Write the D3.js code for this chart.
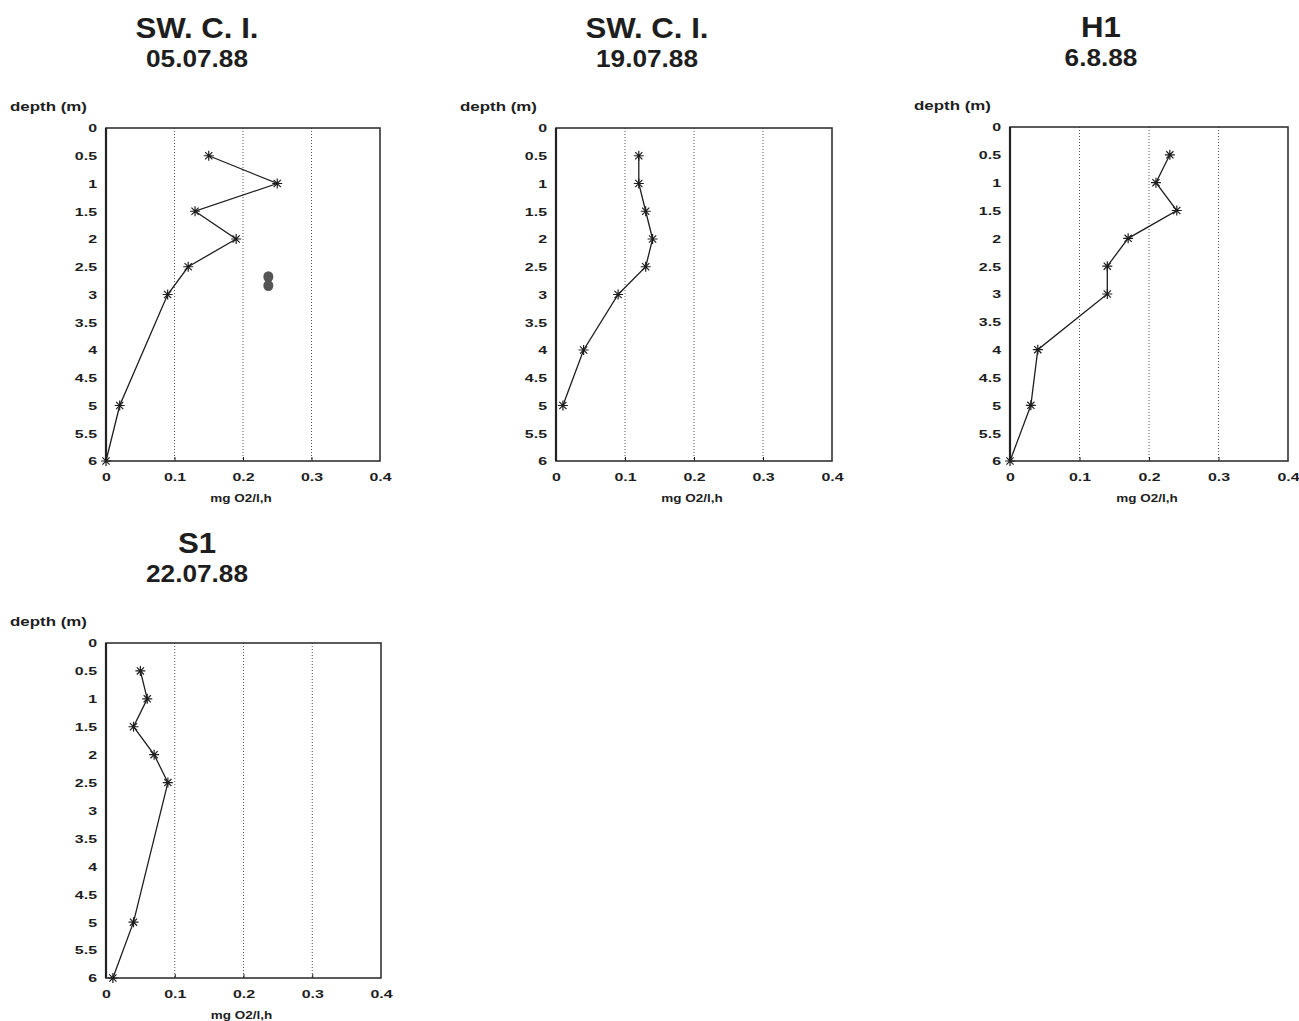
<!DOCTYPE html>
<html><head><meta charset="utf-8">
<script src="https://cdn.jsdelivr.net/npm/d3@7"></script>
<style>body{margin:0;background:#fff}svg{display:block}</style>
</head><body><svg id="c" width="1299" height="1021"></svg>
<script>
// ---- data ----
const stationNames = ["SW. C. I.", "SW. C. I.", "H1", "S1"];
const sampleDates = ["05.07.88", "19.07.88", "6.8.88", "22.07.88"];
const depthTicks = [0, 0.5, 1, 1.5, 2, 2.5, 3, 3.5, 4, 4.5, 5, 5.5, 6];
const rateTicks = [0, 0.1, 0.2, 0.3, 0.4];
const depthLabel = "depth (m)";
const rateLabel = "mg O2/l,h";

const depths1 = [0.5, 1, 1.5, 2, 2.5, 3, 5, 6];
const rates1  = [0.15, 0.25, 0.13, 0.19, 0.12, 0.09, 0.02, 0];
const depths2 = [0.5, 1, 1.5, 2, 2.5, 3, 4, 5];
const rates2  = [0.12, 0.12, 0.13, 0.14, 0.13, 0.09, 0.04, 0.01];
const depths3 = [0.5, 1, 1.5, 2, 2.5, 3, 4, 5, 6];
const rates3  = [0.23, 0.21, 0.24, 0.17, 0.14, 0.14, 0.04, 0.03, 0];
const depths4 = [0.5, 1, 1.5, 2, 2.5, 5, 6];
const rates4  = [0.05, 0.06, 0.04, 0.07, 0.09, 0.04, 0.01];
// smudged extra marks in the first panel
const strayDepths1 = [2.68, 2.84];
const strayRates1  = [0.237, 0.237];

// ---- layout ----
const layout = [
  {left: 106, top: 128, w: 274, h: 333},
  {left: 556, top: 128, w: 276, h: 333},
  {left: 1010, top: 127, w: 278, h: 334},
  {left: 106, top: 643, w: 275, h: 335}
];
const series = [
  {d: depths1, r: rates1, sd: strayDepths1, sr: strayRates1},
  {d: depths2, r: rates2},
  {d: depths3, r: rates3},
  {d: depths4, r: rates4}
];
const FONT = "'Liberation Sans', Arial, Helvetica, sans-serif";
const INK = "#1e1e1e";
const svg = d3.select("#c");

function label(g, x, y, str, size, weight, anchor, sx, fill) {
  return g.append("text")
    .attr("transform", `translate(${x},${y}) scale(${sx},1)`)
    .attr("font-family", FONT).attr("font-size", size).attr("font-weight", weight)
    .attr("text-anchor", anchor).attr("fill", fill || INK).text(str);
}

layout.forEach((L, i) => {
  const g = svg.append("g").attr("transform", `translate(${L.left},${L.top})`);
  const x = d3.scaleLinear().domain([0, 0.4]).range([0, L.w]);
  const y = d3.scaleLinear().domain([0, 6]).range([0, L.h]);

  // titles
  label(g, 91, -90, stationNames[i], 30, "bold", "middle", 1.04);
  label(g, 91, -61, sampleDates[i], 23, "bold", "middle", 1.14);
  label(g, -96, -17, depthLabel, 13, "bold", "start", 1.3);

  // gridlines
  g.selectAll(".grid").data(rateTicks.slice(1, -1)).enter().append("line")
    .attr("x1", d => x(d)).attr("x2", d => x(d)).attr("y1", 0).attr("y2", L.h)
    .attr("stroke", "#555").attr("stroke-width", 1).attr("stroke-dasharray", "1,2");

  // axes (labels)
  const ya = g.append("g").call(d3.axisLeft(y).tickValues(depthTicks).tickSize(0).tickPadding(0).tickFormat(d => String(d)));
  ya.select(".domain").remove();
  ya.selectAll("text").attr("font-family", FONT).attr("font-size", 11).attr("font-weight", "bold")
    .attr("fill", INK).attr("x", -9 / 1.45).attr("dy", "0.35em").attr("transform", "scale(1.45,1)");

  const xa = g.append("g").attr("transform", `translate(0,${L.h})`)
    .call(d3.axisBottom(x).tickValues(rateTicks).tickSize(0).tickPadding(0).tickFormat(d => String(d)));
  xa.select(".domain").remove();
  xa.selectAll("text").attr("font-family", FONT).attr("font-size", 11).attr("font-weight", "bold")
    .attr("fill", INK).attr("y", 20).attr("dy", 0).attr("transform", "scale(1.45,1)");
  xa.selectAll(".tick").filter(d => d > 0 && d < 0.4).append("line")
    .attr("y1", 0).attr("y2", -4).attr("stroke", INK).attr("stroke-width", 1);

  label(g, L.w / 2 - 2, L.h + 41, rateLabel, 10, "bold", "middle", 1.35);

  // frame
  g.append("rect").attr("x", 0).attr("y", 0).attr("width", L.w).attr("height", L.h)
    .attr("fill", "none").attr("stroke", "#333").attr("stroke-width", 1.6);
  g.append("line").attr("x1", 0).attr("x2", 0).attr("y1", 0).attr("y2", L.h)
    .attr("stroke", "#222").attr("stroke-width", 2.2);

  // profile line
  const S = series[i];
  const pts = S.d.map((dv, k) => [S.r[k], dv]);
  g.append("path").datum(pts)
    .attr("d", d3.line().x(p => x(p[0])).y(p => y(p[1])))
    .attr("fill", "none").attr("stroke", INK).attr("stroke-width", 1.3);

  // asterisk markers
  const star = "M-5,0L5,0M0,-5L0,5M-3.6,-3.6L3.6,3.6M-3.6,3.6L3.6,-3.6";
  g.selectAll(".mk").data(pts).enter().append("path")
    .attr("transform", p => `translate(${x(p[0])},${y(p[1])})`)
    .attr("d", star).attr("stroke", INK).attr("stroke-width", 1.2).attr("fill", "none");

  if (S.sd) {
    g.selectAll(".stray").data(S.sd.map((dv, k) => [S.sr[k], dv])).enter().append("ellipse")
      .attr("cx", p => x(p[0])).attr("cy", p => y(p[1]))
      .attr("rx", 5).attr("ry", 5.5).attr("fill", "#555");
  }
});
</script></body></html>
